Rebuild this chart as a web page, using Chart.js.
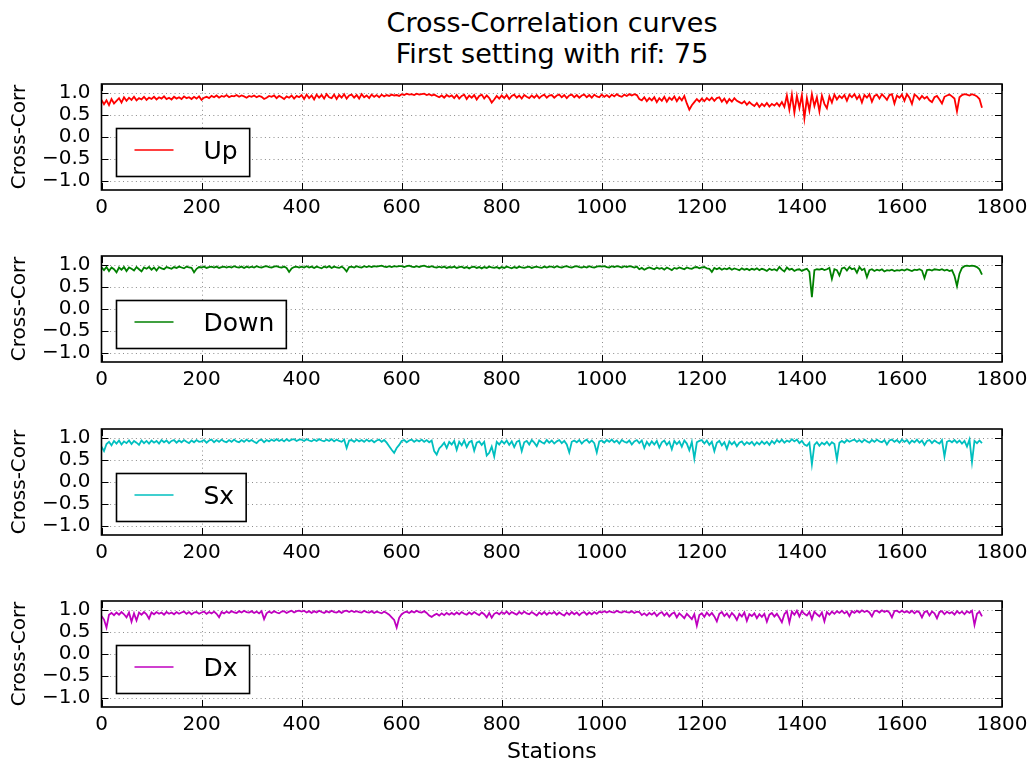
<!DOCTYPE html>
<html>
<head>
<meta charset="utf-8">
<title>Cross-Correlation curves</title>
<script src="https://cdn.jsdelivr.net/npm/chart.js@4.4.1/dist/chart.umd.min.js"></script>
<style>
    body { margin: 0; background: #fff; }
    #fig { position: relative; width: 1035px; height: 767px; background: #fff; overflow: hidden;
           font-family: "DejaVu Sans", sans-serif; }
    #fig canvas { position: absolute; left: 0; }
    #figtitle { position: absolute; left: 102px; width: 900px; top: 7px; text-align: center;
                font-size: 27px; line-height: 31px; color: #000; }
</style>
</head>
<body>
<div id="fig">
    <div id="figtitle">Cross-Correlation curves<br>First setting with rif: 75</div>
    <canvas id="c_up"></canvas>
    <canvas id="c_down"></canvas>
    <canvas id="c_sx"></canvas>
    <canvas id="c_dx"></canvas>
</div>
<script>
// one value every 5 stations, 0 .. 1760
const station_step = 5;
const stations = Array.from({length: 353}, (_, i) => i * station_step);

const x_ticks = [0, 200, 400, 600, 800, 1000, 1200, 1400, 1600, 1800];
const y_ticks = [-1.0, -0.5, 0.0, 0.5, 1.0];

const up = [
    0.84,0.74,0.83,0.72,0.86,0.76,0.82,0.88,0.78,0.90,0.82,0.89,0.84,0.91,0.83,0.88,0.85,0.91,0.84,0.89,
    0.86,0.91,0.85,0.90,0.87,0.92,0.86,0.89,0.85,0.91,0.87,0.90,0.86,0.92,0.88,0.90,0.86,0.91,0.87,0.92,
    0.84,0.89,0.91,0.88,0.93,0.90,0.94,0.89,0.93,0.91,0.95,0.90,0.93,0.92,0.95,0.91,0.94,0.92,0.89,0.93,
    0.91,0.94,0.90,0.93,0.91,0.86,0.89,0.93,0.91,0.94,0.88,0.93,0.90,0.86,0.92,0.89,0.94,0.87,0.93,0.90,
    0.95,0.86,0.96,0.88,0.94,0.85,0.96,0.89,0.95,0.87,0.97,0.90,0.88,0.96,0.86,0.95,0.89,0.97,0.87,0.94,
    0.96,0.89,0.95,0.87,0.97,0.90,0.94,0.88,0.96,0.91,0.95,0.90,0.96,0.92,0.95,0.93,0.96,0.94,0.95,0.93,
    0.97,0.95,0.98,0.96,0.97,0.95,0.98,0.96,0.97,0.98,0.95,0.97,0.94,0.96,0.93,0.90,0.94,0.89,0.95,0.91,
    0.94,0.88,0.95,0.87,0.93,0.96,0.86,0.94,0.89,0.95,0.85,0.93,0.96,0.87,0.94,0.88,0.78,0.85,0.93,0.87,
    0.94,0.88,0.95,0.86,0.93,0.96,0.89,0.94,0.87,0.95,0.91,0.88,0.94,0.89,0.95,0.88,0.93,0.96,0.89,0.94,
    0.95,0.89,0.94,0.96,0.90,0.95,0.88,0.94,0.96,0.90,0.95,0.89,0.94,0.96,0.90,0.95,0.89,0.96,0.92,0.90,
    0.96,0.91,0.95,0.90,0.96,0.92,0.97,0.93,0.91,0.96,0.93,0.97,0.94,0.97,0.95,0.86,0.83,0.90,0.81,0.88,
    0.83,0.90,0.79,0.88,0.82,0.91,0.80,0.89,0.84,0.92,0.81,0.90,0.83,0.93,0.76,0.62,0.72,0.79,0.86,0.80,
    0.87,0.81,0.88,0.83,0.89,0.82,0.88,0.90,0.80,0.87,0.77,0.86,0.80,0.88,0.82,0.79,0.76,0.81,0.73,0.79,
    0.74,0.70,0.77,0.68,0.75,0.70,0.77,0.69,0.75,0.71,0.77,0.70,0.79,0.68,0.94,0.62,0.96,0.55,0.93,0.66,
    0.95,0.42,0.88,0.60,0.97,0.70,0.90,0.58,0.94,0.75,0.65,0.92,0.78,0.96,0.85,0.93,0.88,0.95,0.82,0.96,
    0.90,0.97,0.86,0.94,0.78,0.95,0.89,0.97,0.80,0.93,0.96,0.87,0.97,0.91,0.84,0.95,0.97,0.76,0.94,0.89,
    0.96,0.82,0.97,0.89,0.75,0.96,0.92,0.85,0.93,0.87,0.91,0.83,0.79,0.90,0.93,0.85,0.76,0.91,0.94,0.96,
    0.92,0.87,0.58,0.90,0.95,0.97,0.96,0.94,0.97,0.95,0.92,0.86,0.66,
];

const down = [
    0.94,0.88,0.95,0.86,0.94,0.90,0.83,0.94,0.89,0.95,0.86,0.94,0.91,0.87,0.95,0.90,0.85,0.94,0.91,0.95,
    0.89,0.94,0.87,0.95,0.92,0.90,0.95,0.93,0.91,0.95,0.93,0.96,0.94,0.92,0.96,0.94,0.93,0.83,0.91,0.95,
    0.94,0.96,0.93,0.95,0.96,0.94,0.96,0.93,0.95,0.96,0.94,0.96,0.94,0.97,0.95,0.94,0.96,0.93,0.96,0.94,
    0.96,0.94,0.97,0.95,0.94,0.96,0.97,0.95,0.94,0.96,0.97,0.95,0.94,0.96,0.93,0.84,0.92,0.95,0.96,0.94,
    0.96,0.94,0.97,0.94,0.96,0.93,0.96,0.94,0.92,0.96,0.94,0.97,0.93,0.96,0.94,0.93,0.96,0.92,0.85,0.95,
    0.96,0.94,0.97,0.95,0.94,0.97,0.95,0.97,0.95,0.97,0.96,0.97,0.98,0.96,0.95,0.97,0.95,0.97,0.96,0.97,
    0.97,0.95,0.97,0.98,0.96,0.95,0.97,0.95,0.97,0.98,0.96,0.95,0.97,0.95,0.94,0.96,0.94,0.96,0.93,0.95,
    0.94,0.96,0.93,0.95,0.96,0.93,0.95,0.92,0.95,0.96,0.93,0.95,0.92,0.95,0.93,0.96,0.94,0.93,0.95,0.92,
    0.95,0.93,0.96,0.94,0.92,0.95,0.93,0.96,0.94,0.93,0.95,0.96,0.93,0.95,0.96,0.94,0.93,0.96,0.94,0.96,
    0.96,0.94,0.97,0.95,0.94,0.96,0.97,0.95,0.94,0.96,0.97,0.95,0.94,0.96,0.94,0.97,0.95,0.94,0.96,0.97,
    0.96,0.97,0.95,0.94,0.97,0.95,0.97,0.96,0.94,0.97,0.95,0.97,0.96,0.94,0.96,0.90,0.93,0.89,0.92,0.94,
    0.92,0.90,0.94,0.91,0.93,0.89,0.94,0.91,0.88,0.93,0.91,0.94,0.92,0.90,0.94,0.92,0.91,0.94,0.95,0.92,
    0.94,0.95,0.92,0.91,0.84,0.93,0.90,0.93,0.89,0.92,0.90,0.93,0.89,0.92,0.90,0.88,0.92,0.89,0.91,0.88,
    0.91,0.89,0.92,0.88,0.91,0.89,0.86,0.91,0.88,0.90,0.87,0.95,0.89,0.85,0.94,0.89,0.91,0.86,0.89,0.90,
    0.86,0.89,0.91,0.84,0.27,0.88,0.90,0.89,0.91,0.88,0.90,0.93,0.68,0.90,0.88,0.76,0.92,0.94,0.87,0.95,
    0.90,0.92,0.82,0.95,0.88,0.91,0.72,0.88,0.90,0.86,0.89,0.87,0.90,0.85,0.88,0.87,0.89,0.86,0.88,0.87,
    0.89,0.87,0.90,0.88,0.86,0.89,0.88,0.90,0.87,0.70,0.88,0.89,0.87,0.90,0.89,0.88,0.90,0.87,0.89,0.86,
    0.88,0.75,0.52,0.80,0.93,0.97,0.98,0.97,0.98,0.97,0.95,0.90,0.78,
];

const sx = [
    0.80,0.70,0.86,0.91,0.83,0.93,0.87,0.94,0.85,0.92,0.88,0.94,0.86,0.93,0.89,0.84,0.94,0.88,0.93,0.87,
    0.94,0.89,0.93,0.87,0.95,0.90,0.94,0.88,0.93,0.95,0.89,0.94,0.90,0.95,0.91,0.88,0.94,0.90,0.95,0.91,
    0.92,0.95,0.89,0.94,0.96,0.90,0.95,0.91,0.96,0.92,0.90,0.95,0.91,0.96,0.92,0.90,0.95,0.91,0.96,0.92,
    0.95,0.91,0.88,0.94,0.96,0.90,0.95,0.92,0.96,0.93,0.97,0.93,0.96,0.92,0.97,0.93,0.96,0.97,0.93,0.96,
    0.96,0.93,0.97,0.94,0.92,0.96,0.93,0.97,0.94,0.92,0.96,0.93,0.97,0.92,0.96,0.93,0.91,0.96,0.77,0.94,
    0.95,0.91,0.96,0.92,0.95,0.91,0.96,0.92,0.95,0.90,0.94,0.96,0.91,0.95,0.89,0.81,0.73,0.66,0.77,0.84,
    0.93,0.95,0.90,0.94,0.96,0.91,0.95,0.92,0.96,0.91,0.95,0.90,0.94,0.70,0.62,0.76,0.82,0.89,0.77,0.91,
    0.85,0.93,0.73,0.91,0.83,0.94,0.79,0.90,0.93,0.71,0.89,0.92,0.84,0.91,0.60,0.66,0.80,0.58,0.91,0.85,
    0.93,0.87,0.94,0.84,0.92,0.79,0.91,0.94,0.70,0.90,0.93,0.85,0.95,0.89,0.81,0.94,0.90,0.87,0.95,0.89,
    0.94,0.87,0.92,0.95,0.88,0.93,0.85,0.67,0.91,0.94,0.90,0.95,0.87,0.93,0.96,0.89,0.94,0.88,0.67,0.92,
    0.94,0.89,0.95,0.91,0.96,0.90,0.94,0.87,0.95,0.91,0.89,0.94,0.85,0.92,0.95,0.88,0.94,0.77,0.91,0.83,
    0.92,0.85,0.93,0.78,0.90,0.94,0.84,0.91,0.74,0.93,0.86,0.92,0.80,0.94,0.87,0.72,0.91,0.53,0.90,0.93,
    0.95,0.87,0.94,0.84,0.91,0.70,0.89,0.93,0.83,0.90,0.75,0.92,0.85,0.91,0.81,0.89,0.92,0.84,0.90,0.86,
    0.91,0.83,0.90,0.85,0.92,0.86,0.91,0.84,0.93,0.87,0.95,0.90,0.96,0.89,0.94,0.91,0.97,0.92,0.96,0.88,
    0.93,0.85,0.82,0.89,0.40,0.84,0.90,0.82,0.89,0.85,0.91,0.83,0.90,0.86,0.51,0.89,0.93,0.89,0.95,0.91,
    0.94,0.96,0.91,0.95,0.90,0.96,0.92,0.89,0.95,0.91,0.96,0.92,0.90,0.95,0.85,0.94,0.96,0.91,0.95,0.89,
    0.96,0.91,0.95,0.87,0.94,0.90,0.96,0.89,0.94,0.84,0.93,0.95,0.88,0.94,0.90,0.87,0.95,0.58,0.91,0.94,
    0.90,0.95,0.89,0.94,0.87,0.93,0.80,0.96,0.45,0.93,0.88,0.94,0.88,
];

const dx = [
    0.86,0.78,0.60,0.89,0.93,0.88,0.94,0.89,0.95,0.90,0.83,0.94,0.73,0.92,0.76,0.94,0.89,0.95,0.90,0.80,
    0.94,0.90,0.95,0.91,0.94,0.89,0.95,0.91,0.94,0.90,0.95,0.91,0.94,0.96,0.91,0.95,0.90,0.94,0.95,0.91,
    0.94,0.96,0.91,0.95,0.92,0.96,0.91,0.83,0.95,0.92,0.96,0.93,0.97,0.94,0.93,0.97,0.94,0.98,0.95,0.94,
    0.97,0.93,0.96,0.92,0.97,0.79,0.92,0.96,0.93,0.97,0.94,0.92,0.96,0.97,0.93,0.96,0.98,0.94,0.97,0.98,
    0.96,0.98,0.94,0.97,0.93,0.97,0.94,0.98,0.95,0.93,0.97,0.94,0.98,0.95,0.94,0.97,0.93,0.97,0.98,0.95,
    0.98,0.95,0.97,0.95,0.94,0.98,0.95,0.94,0.97,0.93,0.96,0.94,0.92,0.96,0.93,0.89,0.83,0.77,0.60,0.82,
    0.90,0.94,0.96,0.93,0.97,0.94,0.98,0.95,0.94,0.97,0.93,0.87,0.84,0.88,0.91,0.87,0.92,0.88,0.93,0.89,
    0.93,0.89,0.94,0.90,0.95,0.91,0.89,0.94,0.90,0.95,0.91,0.88,0.94,0.90,0.83,0.93,0.82,0.91,0.94,0.90,
    0.95,0.91,0.96,0.90,0.95,0.92,0.89,0.95,0.91,0.96,0.92,0.90,0.95,0.91,0.87,0.94,0.90,0.95,0.89,0.94,
    0.91,0.95,0.89,0.94,0.90,0.87,0.94,0.89,0.95,0.90,0.94,0.88,0.93,0.95,0.89,0.94,0.90,0.95,0.91,0.96,
    0.94,0.97,0.94,0.97,0.95,0.94,0.98,0.95,0.94,0.97,0.95,0.94,0.97,0.93,0.96,0.95,0.88,0.92,0.87,0.93,
    0.89,0.94,0.86,0.92,0.95,0.87,0.93,0.85,0.91,0.94,0.83,0.92,0.87,0.81,0.91,0.85,0.79,0.90,0.64,0.88,
    0.92,0.84,0.94,0.87,0.93,0.85,0.74,0.91,0.95,0.86,0.92,0.83,0.93,0.87,0.77,0.91,0.85,0.94,0.75,0.90,
    0.86,0.92,0.81,0.90,0.84,0.91,0.73,0.89,0.93,0.85,0.91,0.82,0.72,0.90,0.97,0.71,0.96,0.89,0.98,0.85,
    0.97,0.91,0.87,0.95,0.79,0.96,0.90,0.85,0.94,0.74,0.95,0.89,0.96,0.91,0.97,0.93,0.98,0.92,0.96,0.86,
    0.97,0.93,0.98,0.94,0.99,0.95,0.98,0.94,0.85,0.97,0.98,0.94,0.99,0.95,0.98,0.94,0.83,0.97,0.98,0.94,
    0.98,0.94,0.97,0.93,0.98,0.92,0.97,0.94,0.83,0.95,0.97,0.87,0.96,0.92,0.81,0.95,0.97,0.90,0.96,0.92,
    0.95,0.89,0.97,0.92,0.96,0.90,0.97,0.93,0.98,0.66,0.91,0.96,0.85,
];

const FONT = '"DejaVu Sans", sans-serif';

// top of each canvas and the space under the plot for tick labels
const panels = [
    {id: "c_up",   label: "Up",   color: "#ff0000", values: up,   top: 61,  x_h: 40},
    {id: "c_down", label: "Down", color: "#008000", values: down, top: 233, x_h: 40},
    {id: "c_sx",   label: "Sx",   color: "#00bfbf", values: sx,   top: 406, x_h: 40},
    {id: "c_dx",   label: "Dx",   color: "#bf00bf", values: dx,   top: 578, x_h: 60, x_title: "Stations"},
];
const PAD_TOP = 10;
const PLOT_H = 119;
const AXIS_W = 101.5;
const PAD_RIGHT = 33;

function fmt_tick(v) {
    return v.toFixed(1).replace("-", "\u2212");
}

function line(ctx, x1, y1, x2, y2) {
    ctx.beginPath();
    ctx.moveTo(x1, y1);
    ctx.lineTo(x2, y2);
    ctx.stroke();
}

// matplotlib-ish axes: dotted grid, boxed frame, inward ticks, legend lower left
const frame_plugin = {
    id: "frame",
    beforeDatasetsDraw(chart) {
        const {ctx, chartArea: a, scales} = chart;
        ctx.save();
        ctx.strokeStyle = "#8c8c8c";
        ctx.lineWidth = 1;
        ctx.setLineDash([1, 3.3]);
        for (const v of y_ticks) {
            const y = Math.round(scales.y.getPixelForValue(v)) + 0.5;
            line(ctx, a.left, y, a.right, y);
        }
        for (const v of x_ticks) {
            if (v <= 0 || v >= 1800) continue;
            const x = Math.round(scales.x.getPixelForValue(v)) + 0.5;
            line(ctx, x, a.top, x, a.bottom);
        }
        ctx.restore();
    },
    afterDatasetsDraw(chart, args, opts) {
        const {ctx, chartArea: a, scales} = chart;
        ctx.save();
        ctx.strokeStyle = "#000";
        ctx.lineWidth = 1;
        const tl = 7;
        for (const v of y_ticks) {
            const y = Math.round(scales.y.getPixelForValue(v)) + 0.5;
            line(ctx, a.left, y, a.left + tl, y);
            line(ctx, a.right - tl, y, a.right, y);
        }
        for (const v of x_ticks) {
            const x = Math.round(scales.x.getPixelForValue(v)) + 0.5;
            line(ctx, x, a.bottom, x, a.bottom - tl);
            line(ctx, x, a.top, x, a.top + tl);
        }
        ctx.lineWidth = 1.6;
        ctx.strokeRect(a.left, a.top, a.right - a.left, a.bottom - a.top);

        // legend
        ctx.font = `25px ${FONT}`;
        const tw = ctx.measureText(opts.label).width;
        const w = 18 + 39 + 30 + tw + 12;
        const h = 48;
        const bx = Math.round(a.left + 14) + 0.5;
        const by = Math.round(a.bottom - 14 - h) + 0.5;
        ctx.fillStyle = "#fff";
        ctx.fillRect(bx, by, w, h);
        ctx.lineWidth = 1.6;
        ctx.strokeStyle = "#000";
        ctx.strokeRect(bx, by, w, h);
        const cy = by + h / 2;
        ctx.strokeStyle = opts.color;
        ctx.lineWidth = 1.5;
        line(ctx, bx + 18, cy - 2.5, bx + 57, cy - 2.5);
        ctx.fillStyle = "#000";
        ctx.textBaseline = "alphabetic";
        ctx.textAlign = "left";
        ctx.fillText(opts.label, bx + 87, cy + 6.5);
        ctx.restore();
    },
};

const charts = [];
for (const p of panels) {
    const canvas = document.getElementById(p.id);
    canvas.width = 1035;
    canvas.height = PAD_TOP + PLOT_H + p.x_h;
    canvas.style.top = p.top + "px";

    const points = stations.map((s, i) => ({x: s, y: p.values[i]}));

    const chart = new Chart(canvas, {
        type: "line",
        data: {
            datasets: [{
                label: p.label,
                data: points,
                borderColor: p.color,
                borderWidth: 1.8,
                pointRadius: 0,
                tension: 0,
                fill: false,
            }],
        },
        options: {
            responsive: false,
            animation: false,
            events: [],
            layout: {padding: {top: PAD_TOP, right: PAD_RIGHT, left: 0, bottom: 0}},
            plugins: {
                legend: {display: false},
                tooltip: {enabled: false},
                frame: {label: p.label, color: p.color},
            },
            scales: {
                x: {
                    type: "linear",
                    min: 0,
                    max: 1800,
                    afterBuildTicks: s => { s.ticks = x_ticks.map(v => ({value: v})); },
                    afterFit: s => { s.height = p.x_h; },
                    grid: {display: false, drawTicks: false},
                    border: {display: false},
                    ticks: {
                        color: "#000",
                        font: {family: FONT, size: 20},
                        padding: 6,
                        maxRotation: 0,
                        autoSkip: false,
                        callback: v => String(v),
                    },
                    title: {
                        display: !!p.x_title,
                        text: p.x_title || "",
                        color: "#000",
                        font: {family: FONT, size: 22},
                        padding: {top: 0, bottom: 2},
                    },
                },
                y: {
                    type: "linear",
                    min: -1.2,
                    max: 1.2,
                    afterBuildTicks: s => { s.ticks = y_ticks.map(v => ({value: v})); },
                    afterFit: s => { s.width = AXIS_W; },
                    grid: {display: false, drawTicks: false},
                    border: {display: false},
                    ticks: {
                        color: "#000",
                        font: {family: FONT, size: 20},
                        padding: 11,
                        autoSkip: false,
                        callback: v => fmt_tick(v),
                    },
                    title: {
                        display: true,
                        text: "Cross-Corr",
                        color: "#000",
                        font: {family: FONT, size: 20},
                        padding: {top: 8, bottom: 0},
                    },
                },
            },
        },
        plugins: [frame_plugin],
    });
    charts.push(chart);
}
</script>
</body>
</html>
